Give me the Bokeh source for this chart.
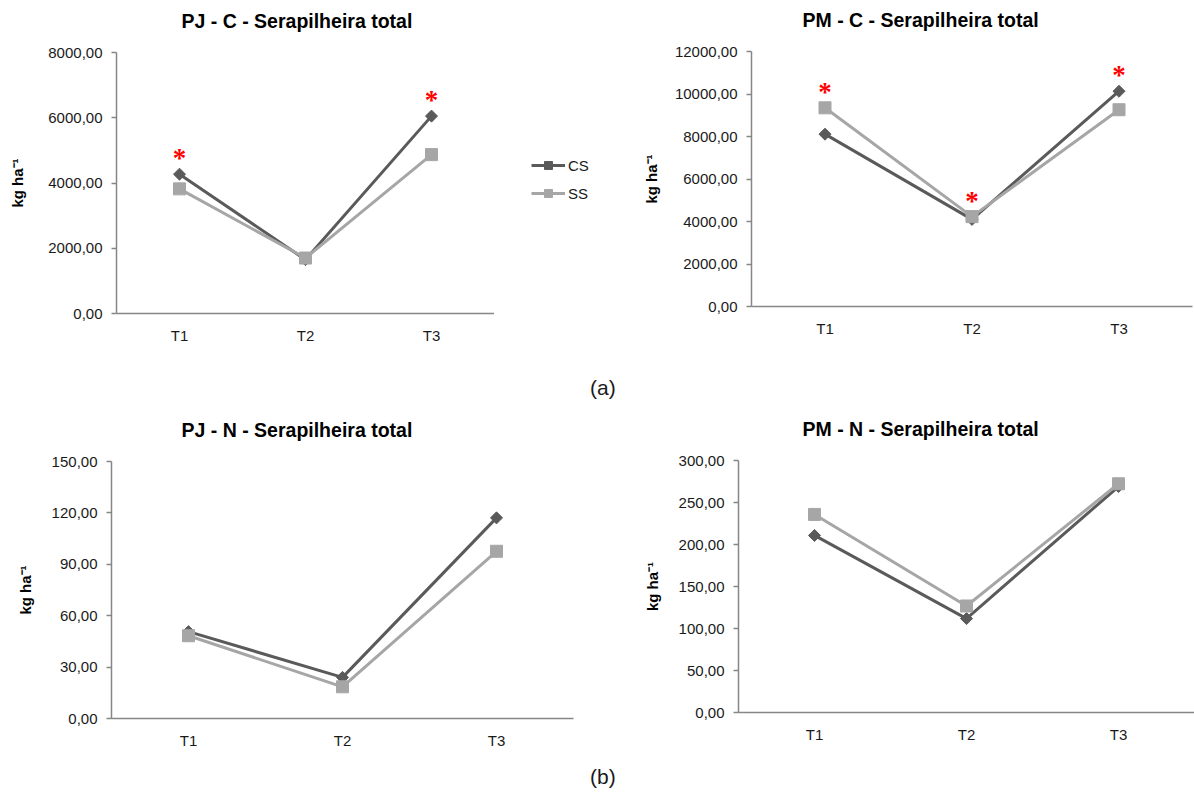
import math
from bokeh.plotting import figure
from bokeh.models import (FactorRange, Range1d, FixedTicker, Legend, LegendItem,
                          ColumnDataSource, Div)
from bokeh.layouts import column, row
from bokeh.embed import file_html
from bokeh.resources import INLINE

# ---------------- data ----------------
categories = ["T1", "T2", "T3"]
series_names = ["CS", "SS"]

pjc_cs = [4270, 1650, 6050]
pjc_ss = [3820, 1700, 4870]
pjc_sig = ["T1", "T3"]
pjc_ticks = [0, 2000, 4000, 6000, 8000]

pmc_cs = [8110, 4100, 10130]
pmc_ss = [9350, 4230, 9260]
pmc_sig = ["T1", "T2", "T3"]
pmc_ticks = [0, 2000, 4000, 6000, 8000, 10000, 12000]

pjn_cs = [50.7, 24.0, 117.1]
pjn_ss = [48.3, 18.5, 97.6]
pjn_sig = []
pjn_ticks = [0, 30, 60, 90, 120, 150]

pmn_cs = [210.8, 111.8, 269.0]
pmn_ss = [235.8, 126.8, 272.3]
pmn_sig = []
pmn_ticks = [0, 50, 100, 150, 200, 250, 300]

titles = ["PJ - C - Serapilheira total", "PM - C - Serapilheira total",
          "PJ - N - Serapilheira total", "PM - N - Serapilheira total"]
y_label = "kg ha\u207b\u00b9"
panel_labels = ["(a)", "(b)"]

# ---------------- style ----------------
FONT = "Liberation Sans"
CS_COLOR = "#5a5a5a"
SS_COLOR = "#a6a6a6"
AXIS_COLOR = "#868686"
TEXT_COLOR = "#1a1a1a"


def fmt(v):
    return f"{v:.2f}".replace(".", ",")


def add_series(p, cs, ss):
    src = ColumnDataSource(dict(x=categories, cs=cs, ss=ss))
    l_cs = p.line("x", "cs", source=src, line_color=CS_COLOR, line_width=3)
    m_cs = p.scatter("x", "cs", source=src, marker="square", angle=math.pi / 4,
                     size=8.5, fill_color=CS_COLOR, line_color=CS_COLOR)
    l_ss = p.line("x", "ss", source=src, line_color=SS_COLOR, line_width=3)
    m_ss = p.scatter("x", "ss", source=src, marker="square", size=12,
                     fill_color=SS_COLOR, line_color=SS_COLOR)
    return l_cs, m_cs, l_ss, m_ss


def make_chart(title, cs, ss, sig, ticks, width, height, bl, br, bt, bb,
               title_offset, title_standoff, ylabel_standoff):
    p = figure(x_range=FactorRange(*categories, range_padding=0),
               y_range=Range1d(0, ticks[-1]),
               width=width, height=height,
               min_border_left=bl, min_border_right=br,
               min_border_top=bt, min_border_bottom=bb,
               frame_align=False,
               output_backend="svg", toolbar_location=None,
               title=title)
    p.title.align = "left"
    p.title.vertical_align = "top"
    p.title.offset = title_offset
    p.title.text_font = FONT
    p.title.text_font_size = "19.5px"
    p.title.text_font_style = "bold"
    p.title.text_color = "#000000"
    p.title.standoff = title_standoff
    p.outline_line_color = None
    p.xgrid.visible = False
    p.ygrid.visible = False
    p.background_fill_color = "white"
    p.border_fill_color = None   # transparent border so overlapping rows stay visible

    # y axis
    ya = p.yaxis[0]
    ya.ticker = FixedTicker(ticks=ticks)
    ya.major_label_overrides = {t: fmt(t) for t in ticks}
    ya.axis_line_color = AXIS_COLOR
    ya.axis_line_width = 1.5
    ya.major_tick_line_color = AXIS_COLOR
    ya.major_tick_line_width = 1.5
    ya.major_tick_out = 5
    ya.major_tick_in = 0
    ya.minor_tick_line_color = None
    ya.major_label_standoff = 9
    ya.major_label_text_font = FONT
    ya.major_label_text_font_size = "15px"
    ya.major_label_text_color = TEXT_COLOR
    ya.axis_label = y_label
    ya.axis_label_text_font = FONT
    ya.axis_label_text_font_size = "15px"
    ya.axis_label_text_font_style = "bold"
    ya.axis_label_text_color = "#000000"
    ya.axis_label_standoff = ylabel_standoff

    # x axis
    xa = p.xaxis[0]
    xa.axis_line_color = AXIS_COLOR
    xa.axis_line_width = 1.5
    xa.major_tick_line_color = None
    xa.minor_tick_line_color = None
    xa.major_tick_out = 0
    xa.major_tick_in = 0
    xa.major_label_standoff = 13
    xa.major_label_text_font = FONT
    xa.major_label_text_font_size = "15px"
    xa.major_label_text_color = TEXT_COLOR

    add_series(p, cs, ss)

    if sig:
        sig_src = ColumnDataSource(dict(
            x=sig,
            y=[max(cs[categories.index(c)], ss[categories.index(c)]) for c in sig],
            t=["*"] * len(sig)))
        p.text("x", "y", text="t", source=sig_src, text_color="#ff0000",
               text_font_size="27px", text_font_style="bold",
               text_align="center", text_baseline="middle", y_offset=-16,
               text_font=FONT)
    return p


# Row canvases start above their page position (negative margins) to leave
# room for the title panels; page y = canvas y - shift.
SHIFT1 = 15
ROW1_H = 376 + SHIFT1          # page y 0..376
SHIFT2 = 8
R2_TOP = 402 - SHIFT2          # canvas top of row 2 on the page
ROW2_H = 764 - R2_TOP          # page y 394..764
T_STANDOFF = 38

p1 = make_chart(titles[0], pjc_cs, pjc_ss, pjc_sig, pjc_ticks,
                494, ROW1_H, 116, 0, 52 + SHIFT1, ROW1_H - (313 + SHIFT1), 65,
                T_STANDOFF, 19)
p2 = make_chart(titles[1], pmc_cs, pmc_ss, pmc_sig, pmc_ticks,
                590, ROW1_H, 147, 2, 51 + SHIFT1, ROW1_H - (306 + SHIFT1), 51,
                T_STANDOFF - 1, 12)
p3 = make_chart(titles[2], pjn_cs, pjn_ss, pjn_sig, pjn_ticks,
                640, ROW2_H, 111, 67, 461 - R2_TOP, ROW2_H - (718 - R2_TOP), 70,
                T_STANDOFF, 15)
p4 = make_chart(titles[3], pmn_cs, pmn_ss, pmn_sig, pmn_ticks,
                554, ROW2_H, 97, 0, 460 - R2_TOP, ROW2_H - (712 - R2_TOP), 64,
                T_STANDOFF - 1, 15)

# legend strip: the PM-C series drawn outside its visible range, only the legend shows
pl = figure(width=110, height=ROW1_H,
            x_range=FactorRange(*categories, range_padding=0),
            y_range=Range1d(-2, -1),
            x_axis_location=None, y_axis_location=None,
            min_border_left=0, min_border_right=0,
            min_border_top=0, min_border_bottom=0,
            frame_align=False,
            output_backend="svg", toolbar_location=None)
pl.outline_line_color = None
pl.xgrid.visible = False
pl.ygrid.visible = False
pl.border_fill_color = None
l_cs, m_cs, l_ss, m_ss = add_series(pl, pmc_cs, pmc_ss)
legend = Legend(items=[LegendItem(label=series_names[0], renderers=[l_cs, m_cs]),
                       LegendItem(label=series_names[1], renderers=[l_ss, m_ss])],
                location=(37, ROW1_H - (203 + SHIFT1)), padding=0, margin=0, spacing=8,
                glyph_width=34, glyph_height=20, label_standoff=3,
                label_text_font=FONT, label_text_font_size="15px",
                label_text_color=TEXT_COLOR,
                border_line_color=None, background_fill_alpha=0)
pl.add_layout(legend, "center")


def panel_div(txt, h, lh):
    return Div(text=(f'<div style="font-family:\'Liberation Sans\';font-size:21px;'
                     f'line-height:{lh}px;height:{h}px;padding-left:590px;'
                     f'color:{TEXT_COLOR};white-space:nowrap;">{txt}</div>'),
               width=1194, height=h, margin=0)


div_a = panel_div(panel_labels[0], 26, 24)   # page y 376..402
div_b = panel_div(panel_labels[1], 26, 26)   # page y 764..790

row1 = row(p1, pl, p2, spacing=0, margin=(-SHIFT1, 0, 0, 0))
row2 = row(p3, p4, spacing=0, margin=(-SHIFT2, 0, 0, 0))
layout = column(row1, div_a, row2, div_b, spacing=0)

with open("out.html", "w") as f:
    f.write(file_html(layout, INLINE))
